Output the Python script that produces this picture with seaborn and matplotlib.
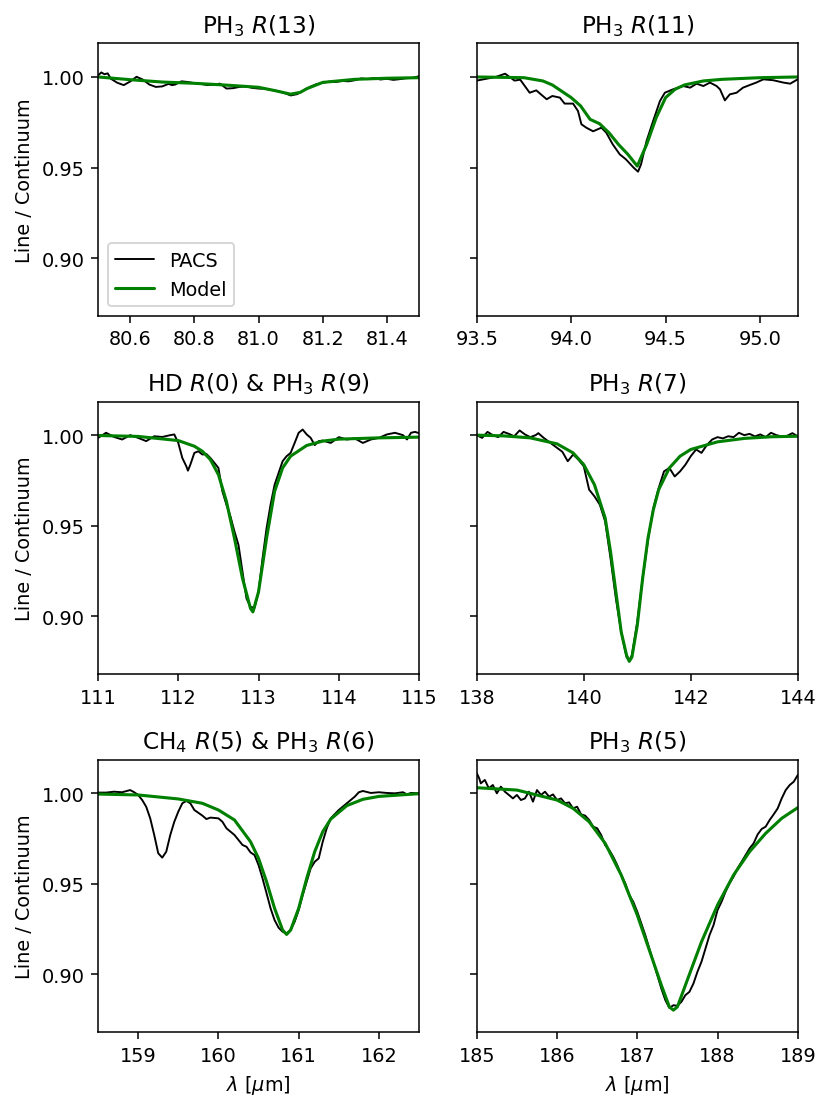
import numpy as np
import matplotlib
matplotlib.use("Agg")
import matplotlib.pyplot as plt
import seaborn as sns

# ---- data (wavelength in micron, line/continuum) ----
titles = ["PH$_3$ $R$(13)", "PH$_3$ $R$(11)", "HD $R$(0) & PH$_3$ $R$(9)",
          "PH$_3$ $R$(7)", "CH$_4$ $R$(5) & PH$_3$ $R$(6)", "PH$_3$ $R$(5)"]
xlims = [(80.5, 81.5), (93.5, 95.2), (111, 115), (138, 144), (158.5, 162.5), (185, 189)]
xticks = [[80.6, 80.8, 81.0, 81.2, 81.4], [93.5, 94.0, 94.5, 95.0], [111, 112, 113, 114, 115],
          [138, 140, 142, 144], [159, 160, 161, 162], [185, 186, 187, 188, 189]]

# PH3 R(13)
pacs_x1 = [80.50, 80.51, 80.52, 80.53, 80.54, 80.56, 80.58, 80.60, 80.62, 80.64, 80.66, 80.68, 80.70,
           80.72, 80.73, 80.74, 80.76, 80.78, 80.80, 80.82, 80.84, 80.86, 80.88, 80.90, 80.92, 80.94,
           80.96, 80.98, 81.00, 81.02, 81.04, 81.06, 81.08, 81.10, 81.12, 81.14, 81.16, 81.18, 81.20,
           81.22, 81.24, 81.26, 81.28, 81.30, 81.32, 81.34, 81.36, 81.38, 81.40, 81.42, 81.44,
           81.46, 81.48, 81.50]
pacs_y1 = [1.0008, 1.0025, 1.0015, 1.0020, 0.9990, 0.9968, 0.9955, 0.9975, 1.0001, 0.9985, 0.9958, 0.9945,
           0.9948, 0.9962, 0.9955, 0.9958, 0.9976, 0.9972, 0.9966, 0.9962, 0.9955, 0.9958, 0.9963, 0.9936,
           0.9938, 0.9945, 0.9948, 0.9940, 0.9936, 0.9935, 0.9928, 0.9922, 0.9912, 0.9898, 0.9905, 0.9925,
           0.9945, 0.9960, 0.9968, 0.9974, 0.9972, 0.9978, 0.9976, 0.9982, 0.9992, 0.9988, 0.9994, 0.9986,
           0.9990, 0.9984, 0.9988, 0.9993, 0.9995, 1.0004]
model_x1 = [80.5, 80.6, 80.7, 80.8, 80.9, 81.0, 81.05, 81.1, 81.13, 81.15, 81.2, 81.3, 81.4, 81.5]
model_y1 = [1.0000, 0.9985, 0.9972, 0.9965, 0.9955, 0.9943, 0.9925, 0.9905, 0.9915, 0.9935, 0.9970,
            0.9987, 0.9993, 0.9996]

# PH3 R(11)
pacs_x2 = [93.50, 93.55, 93.60, 93.65, 93.70, 93.73, 93.78, 93.815, 93.87, 93.90, 93.94, 93.965,
           94.01, 94.036, 94.054, 94.08, 94.116, 94.16, 94.186, 94.22, 94.257, 94.29, 94.33, 94.354,
           94.37, 94.399, 94.434, 94.47, 94.496, 94.54, 94.593, 94.63, 94.664, 94.70, 94.735, 94.77,
           94.788, 94.814, 94.84, 94.876, 94.91, 94.947, 94.98, 95.018, 95.07, 95.124, 95.16, 95.20]
pacs_y2 = [0.9980, 0.9990, 1.0000, 1.0018, 0.9980, 0.9985, 0.9913, 0.9926, 0.9877, 0.9895, 0.9886, 0.9853,
           0.9853, 0.9812, 0.9739, 0.9720, 0.9700, 0.9720, 0.9692, 0.9628, 0.9573, 0.9545, 0.9500, 0.9477,
           0.9518, 0.9646, 0.9757, 0.9867, 0.9913, 0.9932, 0.9950, 0.9941, 0.9963, 0.9950, 0.9969, 0.9950,
           0.9932, 0.9871, 0.9904, 0.9913, 0.9941, 0.9956, 0.9969, 0.9987, 0.9982, 0.9969, 0.9963, 0.9987]
model_x2 = [93.5, 93.75, 93.85, 93.9, 94.0, 94.05, 94.1, 94.15, 94.2, 94.25, 94.3, 94.35, 94.4, 94.45,
            94.5, 94.55, 94.6, 94.7, 94.8, 95.0, 95.2]
model_y2 = [1.0000, 0.9996, 0.9978, 0.9956, 0.9886, 0.9840, 0.9766, 0.9742, 0.9692, 0.9628, 0.9573,
            0.9508, 0.9628, 0.9775, 0.9886, 0.9932, 0.9956, 0.9978, 0.9987, 0.9996, 1.0000]

# HD R(0) & PH3 R(9)
pacs_x3 = [111.0, 111.1, 111.2, 111.3, 111.4, 111.5, 111.6, 111.7, 111.8, 111.9, 111.95, 112.0,
           112.05, 112.1, 112.12, 112.15, 112.2, 112.25, 112.3, 112.35, 112.4, 112.45, 112.5, 112.55,
           112.6, 112.65, 112.7, 112.75, 112.8, 112.85, 112.9, 112.95, 113.0, 113.05, 113.1, 113.15,
           113.2, 113.25, 113.3, 113.35, 113.4, 113.45, 113.5, 113.55, 113.6, 113.65, 113.7, 113.75,
           113.8, 113.9, 114.0, 114.1, 114.2, 114.3, 114.4, 114.5, 114.6, 114.7, 114.8, 114.85,
           114.9, 114.95, 115.0]
pacs_y3 = [0.9985, 1.0013, 0.9990, 0.9976, 1.0000, 0.9985, 0.9967, 0.9994, 0.9990, 1.0000, 1.0004, 0.9957,
           0.9874, 0.9828, 0.9804, 0.9837, 0.9902, 0.9911, 0.9893, 0.9896, 0.9874, 0.9847, 0.9819, 0.9689,
           0.9616, 0.9551, 0.9468, 0.9394, 0.9246, 0.9098, 0.9052, 0.9046, 0.9135, 0.9320, 0.9486, 0.9616,
           0.9726, 0.9791, 0.9856, 0.9884, 0.9902, 0.9957, 1.0013, 1.0031, 1.0004, 0.9985, 0.9945, 0.9967,
           0.9970, 0.9957, 0.9989, 0.9976, 0.9982, 0.9957, 0.9976, 0.9985, 1.0004, 1.0013, 1.0000, 0.9976,
           1.0013, 1.0018, 1.0011]
model_x3 = [111.0, 111.5, 112.0, 112.2, 112.3, 112.4, 112.5, 112.6, 112.7, 112.8, 112.9, 112.93, 113.0,
            113.1, 113.2, 113.3, 113.4, 113.6, 113.8, 114.0, 114.5, 115.0]
model_y3 = [0.9998, 0.9993, 0.9970, 0.9939, 0.9911, 0.9865, 0.9782, 0.9634, 0.9431, 0.9209, 0.9043,
            0.9024, 0.9135, 0.9431, 0.9689, 0.9819, 0.9884, 0.9943, 0.9967, 0.9978, 0.9985, 0.9989]

# PH3 R(7)
pacs_x4 = [138.0, 138.1, 138.2, 138.3, 138.4, 138.5, 138.6, 138.7, 138.8, 138.9, 139.0, 139.1,
           139.15, 139.25, 139.4, 139.5, 139.6, 139.7, 139.75, 139.8, 139.9, 140.0, 140.05, 140.1,
           140.2, 140.3, 140.4, 140.5, 140.6, 140.7, 140.8, 140.85, 140.9, 141.0, 141.1, 141.2,
           141.3, 141.4, 141.5, 141.6, 141.7, 141.8, 141.9, 142.0, 142.1, 142.2, 142.3, 142.4,
           142.5, 142.6, 142.7, 142.8, 142.9, 143.0, 143.1, 143.2, 143.3, 143.4, 143.5, 143.6,
           143.7, 143.8, 143.9, 144.0]
pacs_y4 = [1.0000, 0.9985, 1.0018, 1.0000, 0.9989, 1.0018, 1.0007, 0.9994, 1.0026, 1.0004, 0.9989, 1.0000,
           1.0011, 0.9985, 0.9952, 0.9930, 0.9908, 0.9856, 0.9874, 0.9893, 0.9865, 0.9828, 0.9763, 0.9699,
           0.9662, 0.9616, 0.9523, 0.9320, 0.9098, 0.8913, 0.8775, 0.8757, 0.8784, 0.8969, 0.9209, 0.9421,
           0.9597, 0.9708, 0.9800, 0.9819, 0.9772, 0.9800, 0.9837, 0.9884, 0.9921, 0.9902, 0.9945, 0.9976,
           0.9989, 0.9982, 0.9994, 0.9989, 1.0013, 1.0000, 1.0007, 0.9993, 1.0004, 0.9989, 1.0013, 1.0000,
           0.9993, 0.9996, 1.0011, 0.9993]
model_x4 = [138.0, 138.5, 139.0, 139.5, 139.8, 140.0, 140.2, 140.4, 140.5, 140.6, 140.7, 140.8, 140.85,
            140.9, 141.0, 141.1, 141.2, 141.3, 141.4, 141.6, 141.8, 142.0, 142.5, 143.0, 143.5, 144.0]
model_y4 = [1.0000, 0.9996, 0.9985, 0.9952, 0.9902, 0.9837, 0.9726, 0.9542, 0.9357, 0.9135, 0.8913,
            0.8784, 0.8751, 0.8775, 0.8950, 0.9209, 0.9431, 0.9588, 0.9699, 0.9819, 0.9884, 0.9921,
            0.9963, 0.9982, 0.9991, 0.9994]

# CH4 R(5) & PH3 R(6)
pacs_x5 = [158.5, 158.6, 158.7, 158.8, 158.9, 158.95, 159.0, 159.05, 159.1, 159.15, 159.2, 159.25,
           159.3, 159.35, 159.4, 159.45, 159.5, 159.55, 159.6, 159.65, 159.7, 159.8, 159.85, 159.9,
           160.0, 160.05, 160.1, 160.2, 160.3, 160.35, 160.4, 160.45, 160.5, 160.55, 160.6, 160.65,
           160.7, 160.75, 160.8, 160.85, 160.9, 160.95, 161.0, 161.05, 161.1, 161.15, 161.2, 161.25,
           161.3, 161.35, 161.4, 161.5, 161.6, 161.7, 161.75, 161.8, 161.9, 162.0, 162.1, 162.2,
           162.3, 162.35, 162.4, 162.5]
pacs_y5 = [1.0004, 1.0004, 1.0009, 1.0006, 1.0018, 1.0006, 0.9991, 0.9963, 0.9926, 0.9862, 0.9770, 0.9669,
           0.9645, 0.9678, 0.9770, 0.9843, 0.9899, 0.9945, 0.9958, 0.9945, 0.9908, 0.9877, 0.9858, 0.9866,
           0.9862, 0.9843, 0.9807, 0.9770, 0.9715, 0.9705, 0.9674, 0.9659, 0.9604, 0.9530, 0.9448, 0.9365,
           0.9300, 0.9258, 0.9236, 0.9227, 0.9245, 0.9291, 0.9355, 0.9438, 0.9512, 0.9586, 0.9622, 0.9641,
           0.9733, 0.9807, 0.9862, 0.9908, 0.9945, 0.9982, 1.0006, 1.0013, 1.0002, 1.0006, 1.0002, 1.0000,
           1.0006, 0.9994, 1.0002, 1.0000]
model_x5 = [158.5, 159.0, 159.5, 159.8, 160.0, 160.2, 160.4, 160.5, 160.6, 160.7, 160.8, 160.85, 160.9,
            161.0, 161.1, 161.2, 161.3, 161.4, 161.6, 161.8, 162.0, 162.5]
model_y5 = [0.9996, 0.9991, 0.9969, 0.9945, 0.9908, 0.9853, 0.9733, 0.9641, 0.9512, 0.9365, 0.9245,
            0.9221, 0.9245, 0.9365, 0.9530, 0.9678, 0.9788, 0.9858, 0.9932, 0.9967, 0.9983, 0.9998]

# PH3 R(5)
pacs_x6 = [185.0, 185.03, 185.05, 185.1, 185.15, 185.2, 185.25, 185.3, 185.35, 185.4, 185.45, 185.5,
           185.55, 185.6, 185.65, 185.7, 185.75, 185.8, 185.85, 185.9, 185.95, 186.0, 186.05, 186.1,
           186.15, 186.2, 186.25, 186.3, 186.35, 186.4, 186.45, 186.5, 186.55, 186.6, 186.65, 186.7,
           186.75, 186.8, 186.85, 186.9, 186.95, 187.0, 187.05, 187.1, 187.15, 187.2, 187.25, 187.3,
           187.35, 187.4, 187.45, 187.5, 187.55, 187.6, 187.65, 187.7, 187.75, 187.8, 187.85, 187.9,
           187.95, 188.0, 188.05, 188.1, 188.15, 188.2, 188.25, 188.3, 188.35, 188.4, 188.45, 188.5,
           188.55, 188.6, 188.65, 188.7, 188.75, 188.8, 188.85, 188.9, 188.95, 189.0]
pacs_y6 = [1.0111, 1.0083, 1.0055, 1.0074, 1.0028, 1.0046, 1.0000, 1.0037, 1.0009, 0.9991, 0.9972, 0.9991,
           0.9963, 0.9972, 1.0009, 0.9954, 1.0018, 0.9991, 1.0009, 0.9982, 0.9994, 0.9963, 0.9972, 0.9945,
           0.9950, 0.9917, 0.9926, 0.9884, 0.9877, 0.9853, 0.9816, 0.9807, 0.9770, 0.9714, 0.9687, 0.9650,
           0.9604, 0.9549, 0.9503, 0.9438, 0.9401, 0.9346, 0.9282, 0.9217, 0.9143, 0.9070, 0.8996, 0.8922,
           0.8858, 0.8815, 0.8830, 0.8827, 0.8849, 0.8886, 0.8904, 0.8950, 0.9015, 0.9070, 0.9143, 0.9217,
           0.9272, 0.9355, 0.9401, 0.9457, 0.9503, 0.9540, 0.9586, 0.9622, 0.9659, 0.9696, 0.9724, 0.9773,
           0.9803, 0.9816, 0.9853, 0.9884, 0.9917, 0.9972, 1.0018, 1.0046, 1.0064, 1.0101]
model_x6 = [185.0, 185.5, 186.0, 186.2, 186.4, 186.6, 186.8, 187.0, 187.2, 187.3, 187.4, 187.45, 187.5,
            187.6, 187.8, 188.0, 188.2, 188.4, 188.6, 188.8, 189.0]
model_y6 = [1.0031, 1.0018, 0.9963, 0.9917, 0.9843, 0.9724, 0.9549, 0.9328, 0.9070, 0.8941, 0.8821,
            0.8803, 0.8821, 0.8941, 0.9180, 0.9383, 0.9549, 0.9678, 0.9779, 0.9862, 0.9921]

pacs = [(pacs_x1, pacs_y1), (pacs_x2, pacs_y2), (pacs_x3, pacs_y3),
        (pacs_x4, pacs_y4), (pacs_x5, pacs_y5), (pacs_x6, pacs_y6)]
model = [(model_x1, model_y1), (model_x2, model_y2), (model_x3, model_y3),
         (model_x4, model_y4), (model_x5, model_y5), (model_x6, model_y6)]

# ---- plot ----
sns.set_style("ticks")
plt.rcParams['font.family'] = ['DejaVu Sans']
plt.rcParams['font.size'] = 10
for k in ['text.color', 'axes.labelcolor', 'xtick.color', 'ytick.color', 'axes.edgecolor']:
    plt.rcParams[k] = 'black'

fig, axes = plt.subplots(3, 2, figsize=(6.0, 8.014), dpi=138.5, sharey=True)
fig.subplots_adjust(left=0.118, right=0.960, bottom=0.069, top=0.960, wspace=0.18, hspace=0.314)

for i, ax in enumerate(axes.flat):
    px, py = pacs[i]
    mx, my = model[i]
    sns.lineplot(x=px, y=py, ax=ax, color='black', lw=1.0, estimator=None, label='PACS' if i == 0 else None)
    sns.lineplot(x=mx, y=my, ax=ax, color='green', lw=1.6, estimator=None, label='Model' if i == 0 else None)
    ax.set_title(titles[i], fontsize=12)
    ax.set_xlim(xlims[i])
    ax.set_xticks(xticks[i])
    ax.set_ylim(0.868, 1.0185)
    ax.set_yticks([0.90, 0.95, 1.00])
    ax.tick_params(labelsize=10, length=3.5, width=0.8)
    for s in ax.spines.values():
        s.set_linewidth(0.8)
    if i % 2 == 0:
        ax.set_ylabel("Line / Continuum")
    if i >= 4:
        ax.set_xlabel(r"$\lambda$ [$\mu$m]")

axes[0, 0].set_xticklabels(["80.6", "80.8", "81.0", "81.2", "81.4"])
axes[0, 1].set_xticklabels(["93.5", "94.0", "94.5", "95.0"])
axes[0, 0].set_yticklabels(["0.90", "0.95", "1.00"])
axes[0, 0].legend(loc='lower left', frameon=True, fontsize=10)

plt.savefig("out.png", dpi=138.5)
